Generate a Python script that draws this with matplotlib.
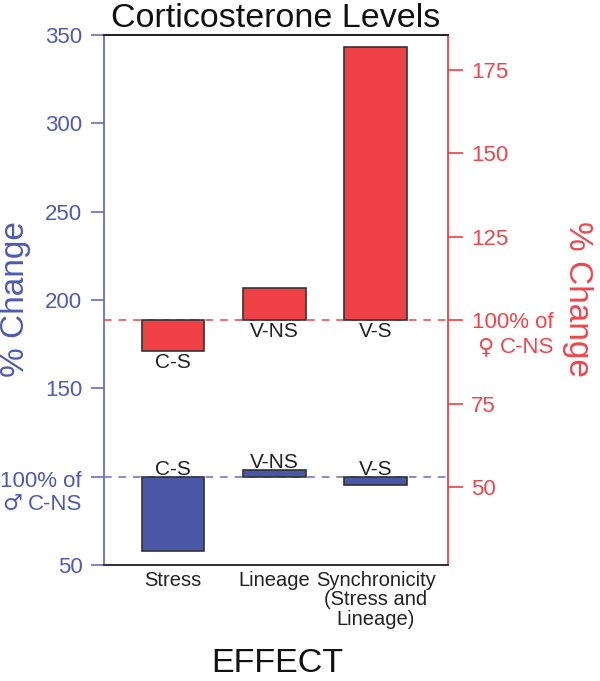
import matplotlib
matplotlib.use("Agg")
import matplotlib.pyplot as plt
import numpy as np

categories = ["Stress", "Lineage", "Synchronicity\n(Stress and\nLineage)"]
male_values = [58.0, 104.0, 95.0]        # left axis, % of male C-NS
female_values = [90.7, 109.6, 181.9]     # right axis, % of female C-NS
male_labels = ["C-S", "V-NS", "V-S"]
female_labels = ["C-S", "V-NS", "V-S"]
left_ticks = [50, 100, 150, 200, 250, 300, 350]
right_ticks = [50, 75, 100, 125, 150, 175]
baseline = 100

BLUE_BAR = "#4a56a6"
BLUE_TXT = "#4f5bb0"
BLUE_AX = "#6670bd"
RED_BAR = "#ef4046"
RED_TXT = "#f0454b"
EDGE = "#333333"

plt.rcParams["font.family"] = ["Liberation Sans", "DejaVu Sans"]

fig = plt.figure(figsize=(6, 6.81), dpi=100)
ax = fig.add_axes([104 / 600, (681 - 565) / 681, 344 / 600, 530 / 681])
ax2 = ax.twinx()

x = np.arange(len(categories))
w = 0.62

ax.axhline(baseline, color=BLUE_AX, ls=(0, (5, 4.5)), lw=1.1, zorder=1)
ax.bar(x, [v - baseline for v in male_values], bottom=baseline, width=w,
       color=BLUE_BAR, edgecolor=EDGE, lw=1.2, zorder=3)
ax2.axhline(baseline, color=RED_BAR, ls=(0, (5, 4.5)), lw=1.1, zorder=1)
ax2.bar(x, [v - baseline for v in female_values], bottom=baseline, width=w,
        color=RED_BAR, edgecolor=EDGE, lw=1.2, zorder=3)

ax.set_xlim(-0.68, 2.71)
ax.set_ylim(50, 350)
ax2.set_ylim(26.6, 185.5)

# bar labels
for xi, v, lab in zip(x, male_values, male_labels):
    top = max(v, baseline)
    ax.annotate(lab, (xi, top), xytext=(0, -1.5), textcoords="offset points",
                ha="center", va="bottom", fontsize=15, color="#222222", zorder=5)
for xi, v, lab in zip(x, female_values, female_labels):
    bot = min(v, baseline)
    ax2.annotate(lab, (xi, bot), xytext=(0, -1), textcoords="offset points",
                 ha="center", va="top", fontsize=15, color="#222222", zorder=5)

# left axis ticks
ax.set_yticks(left_ticks)
ax.set_yticklabels(["" if t == baseline else str(t) for t in left_ticks])
ax.tick_params(axis="y", colors=BLUE_AX, labelcolor=BLUE_TXT, labelsize=16,
               length=9.5, width=1.2, pad=6)
lx = ("axes fraction", "data")
ax.annotate("100% of", xy=(0, baseline), xycoords=lx, xytext=(-15.8, -7.2),
            textcoords="offset points", ha="right", va="baseline",
            fontsize=16, color=BLUE_TXT, annotation_clip=False)
ax.annotate("C-NS", xy=(0, baseline), xycoords=lx, xytext=(-15.8, -23.8),
            textcoords="offset points", ha="right", va="baseline",
            fontsize=16, color=BLUE_TXT, annotation_clip=False)
ax.annotate("\u2642", xy=(0, baseline), xycoords=lx, xytext=(-58.5, -23.8),
            textcoords="offset points", ha="right", va="baseline",
            fontsize=16, color=BLUE_TXT, family="DejaVu Sans",
            annotation_clip=False)

# right axis ticks
ax2.set_yticks(right_ticks)
ax2.set_yticklabels(["" if t == baseline else str(t) for t in right_ticks])
ax2.tick_params(axis="y", colors=RED_BAR, labelcolor=RED_TXT, labelsize=16,
                length=10.5, width=1.2, pad=6)
rx = ("axes fraction", "data")
ax2.annotate("100% of", xy=(1, baseline), xycoords=rx, xytext=(17.3, -5.8),
             textcoords="offset points", ha="left", va="baseline",
             fontsize=16, color=RED_TXT, annotation_clip=False)
ax2.annotate("C-NS", xy=(1, baseline), xycoords=rx, xytext=(76.3, -23.8),
             textcoords="offset points", ha="right", va="baseline",
             fontsize=16, color=RED_TXT, annotation_clip=False)
ax2.annotate("\u2640", xy=(1, baseline), xycoords=rx, xytext=(32.5, -23.8),
             textcoords="offset points", ha="right", va="baseline",
             fontsize=16, color=RED_TXT, family="DejaVu Sans",
             annotation_clip=False)

# x axis
ax.set_xticks(x)
ax.set_xticklabels(categories, fontsize=14.5, color="#222222", linespacing=1.05)
ax.tick_params(axis="x", length=0, pad=4)

# spines
for a in (ax, ax2):
    a.spines["top"].set_color("#222222")
    a.spines["bottom"].set_color(EDGE)
    a.spines["left"].set_color(BLUE_AX)
    a.spines["right"].set_color(RED_BAR)
    for s in a.spines.values():
        s.set_linewidth(1.3)
ax2.spines["left"].set_visible(False)
ax.spines["right"].set_visible(False)

# axis titles
fig.text(16 / 600, (681 - 299) / 681, "% Change", rotation=90,
         ha="center", va="center", fontsize=24, color=BLUE_TXT)
fig.text(578 / 600, (681 - 299) / 681, "% Change", rotation=-90,
         ha="center", va="center", fontsize=24, color=RED_TXT)
fig.text(276 / 600, (681 - 27) / 681, "Corticosterone Levels", ha="center",
         va="baseline", fontsize=24.5, color="#111111")
fig.text(277 / 600, (681 - 672) / 681, "EFFECT", ha="center", va="baseline",
         fontsize=24.5, color="#111111")

fig.savefig("out.png", dpi=100)
